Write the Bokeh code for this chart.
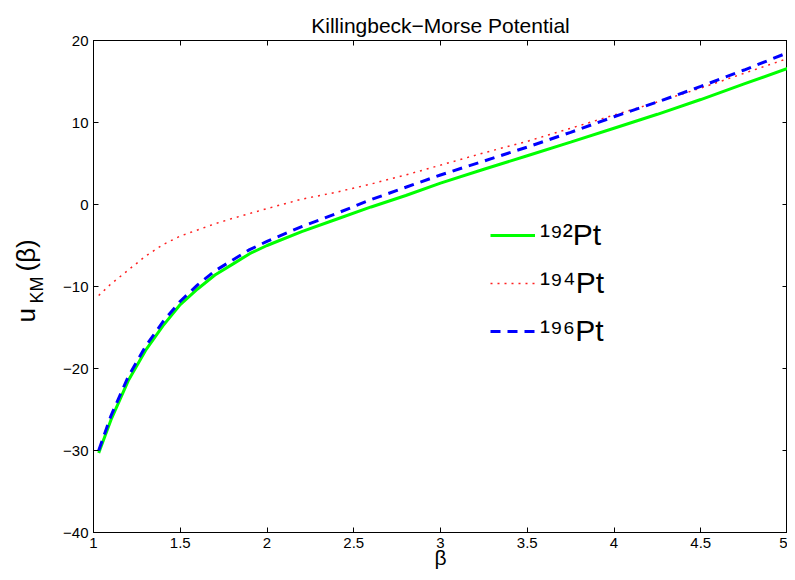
import math
from bokeh.plotting import figure
from bokeh.layouts import row
from bokeh.models import Range1d, LinearAxis, FixedTicker, Label, Legend, LegendItem
from bokeh.embed import file_html
from bokeh.resources import INLINE

# ---- data ----
beta = [1.03, 1.1, 1.2, 1.3, 1.4, 1.5, 1.6, 1.7, 1.8, 1.9, 2.0, 2.2, 2.4, 2.6, 2.8,
        3.0, 3.25, 3.5, 3.75, 4.0, 4.25, 4.5, 4.75, 5.0]
u_192 = [-30.3, -26.3, -21.5, -17.8, -14.8, -12.2, -10.3, -8.6, -7.3, -6.0, -5.0, -3.3, -1.8, -0.3, 1.1,
         2.6, 4.3, 5.95, 7.6, 9.3, 11.0, 12.8, 14.7, 16.6]
u_194 = [-11.1, -9.7, -8.0, -6.3, -4.9, -3.85, -3.1, -2.35, -1.7, -1.1, -0.5, 0.65, 1.5, 2.5, 3.6,
         4.8, 6.3, 7.7, 9.3, 10.9, 12.5, 14.2, 16.0, 17.8]
u_196 = [-30.0, -25.8, -21.0, -17.3, -14.3, -11.8, -9.8, -8.1, -6.8, -5.5, -4.5, -2.7, -1.1, 0.6, 2.1,
         3.6, 5.3, 7.0, 8.8, 10.7, 12.5, 14.4, 16.4, 18.5]

series_labels = ["¹⁹²Pt", "¹⁹⁴Pt", "¹⁹⁶Pt"]

x_ticks = [1, 1.5, 2, 2.5, 3, 3.5, 4, 4.5, 5]
x_tick_labels = ["1", "1.5", "2", "2.5", "3", "3.5", "4", "4.5", "5"]
y_ticks = [-40, -30, -20, -10, 0, 10, 20]
y_tick_labels = ["\u221240", "\u221230", "\u221220", "\u221210", "0", "10", "20"]

title_text = "Killingbeck\u2212Morse Potential"
x_label = "β"
FONT = "Liberation Sans"

# ---- narrow panel holding the y-axis label u_KM(β) ----
ylab = figure(width=50, height=572, x_range=Range1d(0, 1), y_range=Range1d(0, 1),
              output_backend="svg", toolbar_location=None,
              min_border_left=0, min_border_right=0, min_border_top=0, min_border_bottom=0)
ylab.axis.visible = False
ylab.grid.visible = False
ylab.outline_line_color = None
ylab.background_fill_color = "white"
ylab.border_fill_color = "white"
for txt, xs, ys, fs in [("u", 25, 210, "26px"), ("KM", 36, 229, "18px"), ("(β)", 25, 261, "26px")]:
    ylab.add_layout(Label(x=xs, y=ys, x_units="screen", y_units="screen", text=txt,
                          angle=math.pi / 2, text_align="left", text_baseline="alphabetic",
                          text_font=FONT, text_font_size=fs, text_color="black"))

# ---- main plot ----
p = figure(width=737, height=572, x_range=Range1d(1, 5), y_range=Range1d(-40, 20),
           output_backend="svg", toolbar_location=None,
           min_border_left=43, min_border_right=0, min_border_top=40, min_border_bottom=40)
p.background_fill_color = "white"
p.border_fill_color = "white"
p.xgrid.visible = False
p.ygrid.visible = False
p.outline_line_color = "black"
p.outline_line_width = 1

p.title.text = title_text
p.title.align = "center"
p.title.offset = 5
p.title.text_font = FONT
p.title.text_font_size = "21px"
p.title.text_font_style = "normal"
p.title.text_color = "black"
p.title.standoff = 8


def style_axis(ax, ticks, labels, show_labels=True):
    ax.ticker = FixedTicker(ticks=ticks)
    ax.major_tick_in = 5
    ax.major_tick_out = 0
    ax.minor_tick_line_color = None
    ax.axis_line_color = "black"
    ax.axis_line_width = 1
    ax.major_tick_line_color = "black"
    ax.major_tick_line_width = 1
    if show_labels:
        ax.major_label_overrides = {t: l for t, l in zip(ticks, labels)}
        ax.major_label_text_font = FONT
        ax.major_label_text_font_size = "15px"
        ax.major_label_text_color = "black"
        ax.major_label_standoff = 5
    else:
        ax.major_label_overrides = {t: "" for t in ticks}
        ax.major_label_text_font_size = "0px"
        ax.major_label_standoff = 0


style_axis(p.xaxis[0], x_ticks, x_tick_labels)
style_axis(p.yaxis[0], y_ticks, y_tick_labels)
p.xaxis[0].axis_label = x_label
p.xaxis[0].axis_label_text_font = FONT
p.xaxis[0].axis_label_text_font_size = "21px"
p.xaxis[0].axis_label_text_font_style = "normal"
p.xaxis[0].axis_label_text_color = "black"
p.xaxis[0].axis_label_standoff = -5

top_ax = LinearAxis()
right_ax = LinearAxis()
style_axis(top_ax, x_ticks, x_tick_labels, show_labels=False)
style_axis(right_ax, y_ticks, y_tick_labels, show_labels=False)
p.add_layout(top_ax, "above")
p.add_layout(right_ax, "right")

r192 = p.line(beta, u_192, line_color="#00ff00", line_width=3)
r194 = p.line(beta, u_194, line_color="#ff2020", line_width=1.5, line_dash="2 5")
r196 = p.line(beta, u_196, line_color="#0000ff", line_width=3, line_dash="10 7")

legend = Legend(items=[LegendItem(label=series_labels[0], renderers=[r192]),
                       LegendItem(label=series_labels[1], renderers=[r194]),
                       LegendItem(label=series_labels[2], renderers=[r196])],
                location=(397, 184))
legend.border_line_color = None
legend.background_fill_alpha = 0
legend.padding = 0
legend.margin = 0
legend.glyph_width = 45
legend.glyph_height = 30
legend.label_height = 30
legend.spacing = 14
legend.label_standoff = 5
legend.label_text_font = FONT
legend.label_text_font_size = "30px"
legend.label_text_color = "black"
p.add_layout(legend)

layout = row(ylab, p)
open("out.html", "w").write(file_html(layout, INLINE))
